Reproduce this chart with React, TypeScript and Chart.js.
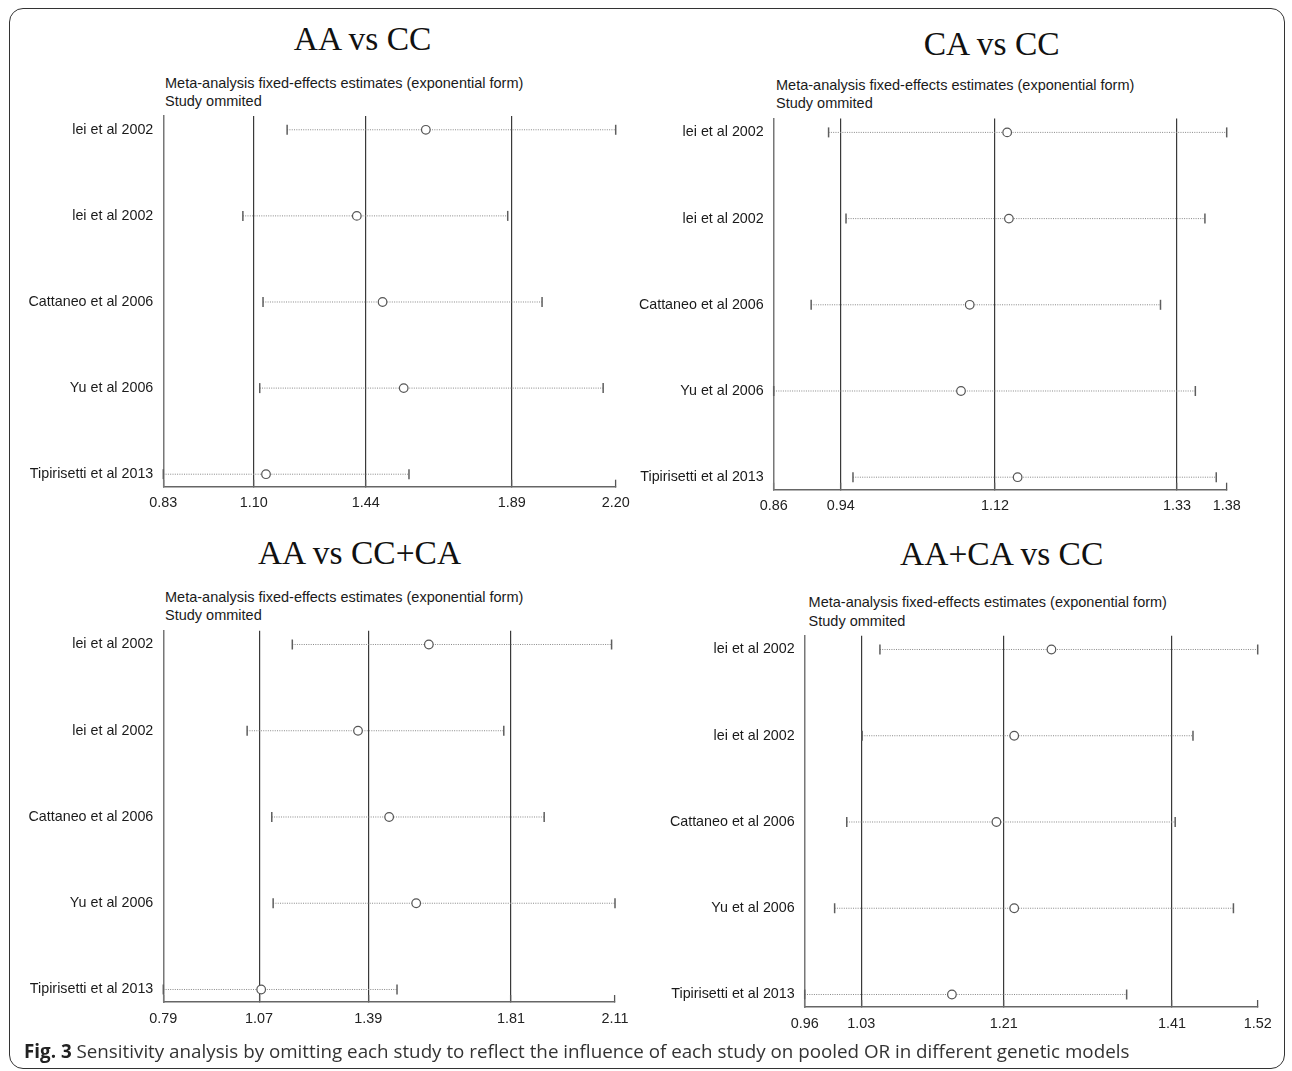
import React, { useEffect, useRef } from "react";
import { Chart, registerables } from "chart.js";

Chart.register(...registerables);
Chart.defaults.font.family = '"Liberation Sans", Arial, sans-serif';

// ---------------- data ----------------
const studies = [
  "lei et al 2002",
  "lei et al 2002",
  "Cattaneo et al 2006",
  "Yu et al 2006",
  "Tipirisetti et al 2013",
];

// AA vs CC
const estAAvsCC = [1.625, 1.416, 1.494, 1.558, 1.141];
const lowAAvsCC = [1.205, 1.071, 1.132, 1.122, 0.83];
const highAAvsCC = [2.2, 1.873, 1.977, 2.162, 1.574];
const tickValsAAvsCC = [0.83, 1.104, 1.443, 1.885, 2.2];
const tickLabsAAvsCC = ["0.83", "1.10", "1.44", "1.89", "2.20"];

// CA vs CC
const estCAvsCC = [1.128, 1.13, 1.085, 1.075, 1.14];
const lowCAvsCC = [0.923, 0.943, 0.903, 0.86, 0.951];
const highCAvsCC = [1.38, 1.355, 1.304, 1.344, 1.368];
const tickValsCAvsCC = [0.86, 0.937, 1.114, 1.323, 1.38];
const tickLabsCAvsCC = ["0.86", "0.94", "1.12", "1.33", "1.38"];

// AA vs CC+CA
const estRec = [1.566, 1.359, 1.45, 1.529, 1.076];
const lowRec = [1.167, 1.035, 1.107, 1.111, 0.79];
const highRec = [2.1, 1.785, 1.903, 2.11, 1.473];
const tickValsRec = [0.79, 1.07, 1.389, 1.806, 2.11];
const tickLabsRec = ["0.79", "1.07", "1.39", "1.81", "2.11"];

// AA+CA vs CC
const estDom = [1.265, 1.219, 1.197, 1.219, 1.142];
const lowDom = [1.053, 1.031, 1.012, 0.997, 0.96];
const highDom = [1.52, 1.44, 1.418, 1.49, 1.358];
const tickValsDom = [0.96, 1.03, 1.206, 1.414, 1.52];
const tickLabsDom = ["0.96", "1.03", "1.21", "1.41", "1.52"];

const subtitle1 = "Meta-analysis fixed-effects estimates (exponential form)";
const subtitle2 = "Study ommited";

// ---------------- layout ----------------
type Area = { l: number; r: number; t: number; b: number };

interface PanelProps {
  est: number[];
  low: number[];
  high: number[];
  tickVals: number[];
  tickLabs: string[];
  area: Area;
  canvasW: number;
  canvasH: number;
}

function ForestPanel(p: PanelProps) {
  const ref = useRef<HTMLCanvasElement | null>(null);
  const cx = Math.floor(p.area.l) - 160;
  const cy = Math.floor(p.area.t) - 24;
  const YW = p.area.l - cx;
  const T = p.area.t - cy;
  const R = cx + p.canvasW - p.area.r;
  const XH = cy + p.canvasH - p.area.b;

  useEffect(() => {
    if (!ref.current) return;
    const datasets: any[] = [
      {
        data: p.est.map((v, i) => ({ x: v, y: i + 1 })),
        showLine: false,
        pointStyle: "circle",
        pointRadius: 4.3,
        pointBackgroundColor: "#ffffff",
        pointBorderColor: "#555555",
        pointBorderWidth: 1.2,
        clip: false,
      },
      ...studies.map((_, i) => ({
        data: [
          { x: p.low[i], y: i + 1 },
          { x: p.high[i], y: i + 1 },
        ],
        showLine: true,
        borderColor: "#888888",
        borderWidth: 1,
        borderDash: [1, 1.3],
        pointStyle: "line",
        pointRotation: 90,
        pointRadius: 5,
        pointBorderColor: "#5e5e5e",
        pointBorderWidth: 1.5,
        clip: false,
      })),
    ];
    const chart = new Chart(ref.current, {
      type: "scatter",
      data: { datasets },
      options: {
        animation: false,
        responsive: false,
        events: [],
        layout: { padding: { left: 0, top: T, right: R, bottom: 0 } },
        plugins: { legend: { display: false }, tooltip: { enabled: false } },
        scales: {
          x: {
            type: "linear",
            min: p.tickVals[0],
            max: p.tickVals[p.tickVals.length - 1],
            afterBuildTicks: (s: any) => {
              s.ticks = p.tickVals.map((v) => ({ value: v }));
            },
            afterFit: (s: any) => {
              s.height = XH;
            },
            ticks: {
              autoSkip: false,
              maxRotation: 0,
              padding: 15,
              color: "#222",
              font: { size: 14.4 },
              callback: (_v: any, i: number) => p.tickLabs[i],
            },
            grid: {
              color: (c: any) =>
                c.index > 0 && c.index < p.tickVals.length - 1 ? "#3a3a3a" : "rgba(0,0,0,0)",
              lineWidth: 1.2,
              drawTicks: true,
              tickLength: -7,
              tickColor: "#555",
              tickWidth: 1.3,
            },
            border: { display: true, color: "#666", width: 1.5 },
          },
          y: {
            type: "linear",
            reverse: true,
            min: 0.84,
            max: 5.145,
            afterBuildTicks: (s: any) => {
              s.ticks = studies.map((_, i) => ({ value: i + 1 }));
            },
            afterFit: (s: any) => {
              s.width = YW;
            },
            ticks: {
              autoSkip: false,
              padding: 10,
              color: "#1a1a1a",
              font: { size: 14.3 },
              callback: (_v: any, i: number) => studies[i],
            },
            grid: { display: false, drawTicks: false },
            border: { display: true, color: "#777", width: 1.5 },
          },
        },
      } as any,
    });
    return () => chart.destroy();
  }, []);

  return (
    <canvas
      ref={ref}
      width={p.canvasW}
      height={p.canvasH}
      style={{ position: "absolute", left: cx, top: cy, width: p.canvasW, height: p.canvasH }}
    />
  );
}

function Title({ text, center, top }: { text: string; center: number; top: number }) {
  return (
    <div
      style={{
        position: "absolute",
        left: center - 250,
        width: 500,
        top,
        textAlign: "center",
        fontFamily: '"Liberation Serif", "Times New Roman", serif',
        fontSize: "33.5px",
        lineHeight: 1,
        color: "#111",
        whiteSpace: "nowrap",
      }}
    >
      {text}
    </div>
  );
}

function Sub({ left, top }: { left: number; top: number }) {
  return (
    <div
      style={{
        position: "absolute",
        left,
        top,
        fontFamily: '"Liberation Sans", Arial, sans-serif',
        fontSize: "14.5px",
        lineHeight: "18.5px",
        color: "#1a1a1a",
        whiteSpace: "nowrap",
      }}
    >
      {subtitle1}
      <br />
      {subtitle2}
    </div>
  );
}

export default function App() {
  return (
    <div
      style={{
        position: "absolute",
        left: 0,
        top: 0,
        width: 1292,
        height: 1071,
        overflow: "hidden",
        background: "#fff",
      }}
    >
      <div
        style={{
          position: "absolute",
          left: 9,
          top: 8,
          width: 1276,
          height: 1061,
          boxSizing: "border-box",
          border: "1.5px solid #333",
          borderRadius: 14,
        }}
      />
      <Title text="AA vs CC" center={362.6} top={21.5} />
      <Title text="CA vs CC" center={991.7} top={26.5} />
      <Title text="AA vs CC+CA" center={359.5} top={536.4} />
      <Title text="AA+CA vs CC" center={1001.7} top={537.4} />
      <Sub left={165} top={73.6} />
      <Sub left={776} top={75.8} />
      <Sub left={165} top={587.5} />
      <Sub left={808.6} top={593.4} />
      <ForestPanel
        est={estAAvsCC}
        low={lowAAvsCC}
        high={highAAvsCC}
        tickVals={tickValsAAvsCC}
        tickLabs={tickLabsAAvsCC}
        area={{ l: 163.3, r: 615.7, t: 116, b: 486.7 }}
        canvasW={660}
        canvasH={440}
      />
      <ForestPanel
        est={estCAvsCC}
        low={lowCAvsCC}
        high={highCAvsCC}
        tickVals={tickValsCAvsCC}
        tickLabs={tickLabsCAvsCC}
        area={{ l: 773.7, r: 1226.7, t: 118.6, b: 489.7 }}
        canvasW={670}
        canvasH={440}
      />
      <ForestPanel
        est={estRec}
        low={lowRec}
        high={highRec}
        tickVals={tickValsRec}
        tickLabs={tickLabsRec}
        area={{ l: 163.3, r: 615, t: 630.7, b: 1002 }}
        canvasW={660}
        canvasH={440}
      />
      <ForestPanel
        est={estDom}
        low={lowDom}
        high={highDom}
        tickVals={tickValsDom}
        tickLabs={tickLabsDom}
        area={{ l: 804.7, r: 1257.7, t: 635.7, b: 1007 }}
        canvasW={648}
        canvasH={440}
      />
      <div
        style={{
          position: "absolute",
          left: 24,
          top: 1042,
          fontFamily: '"Open Sans", "Noto Sans", sans-serif',
          fontSize: "18.8px",
          lineHeight: 1,
          color: "#333",
          whiteSpace: "nowrap",
        }}
      >
        <span style={{ fontWeight: 700, color: "#222" }}>Fig. 3</span> Sensitivity analysis by omitting each
        study to reflect the influence of each study on pooled OR in different genetic models
      </div>
    </div>
  );
}
